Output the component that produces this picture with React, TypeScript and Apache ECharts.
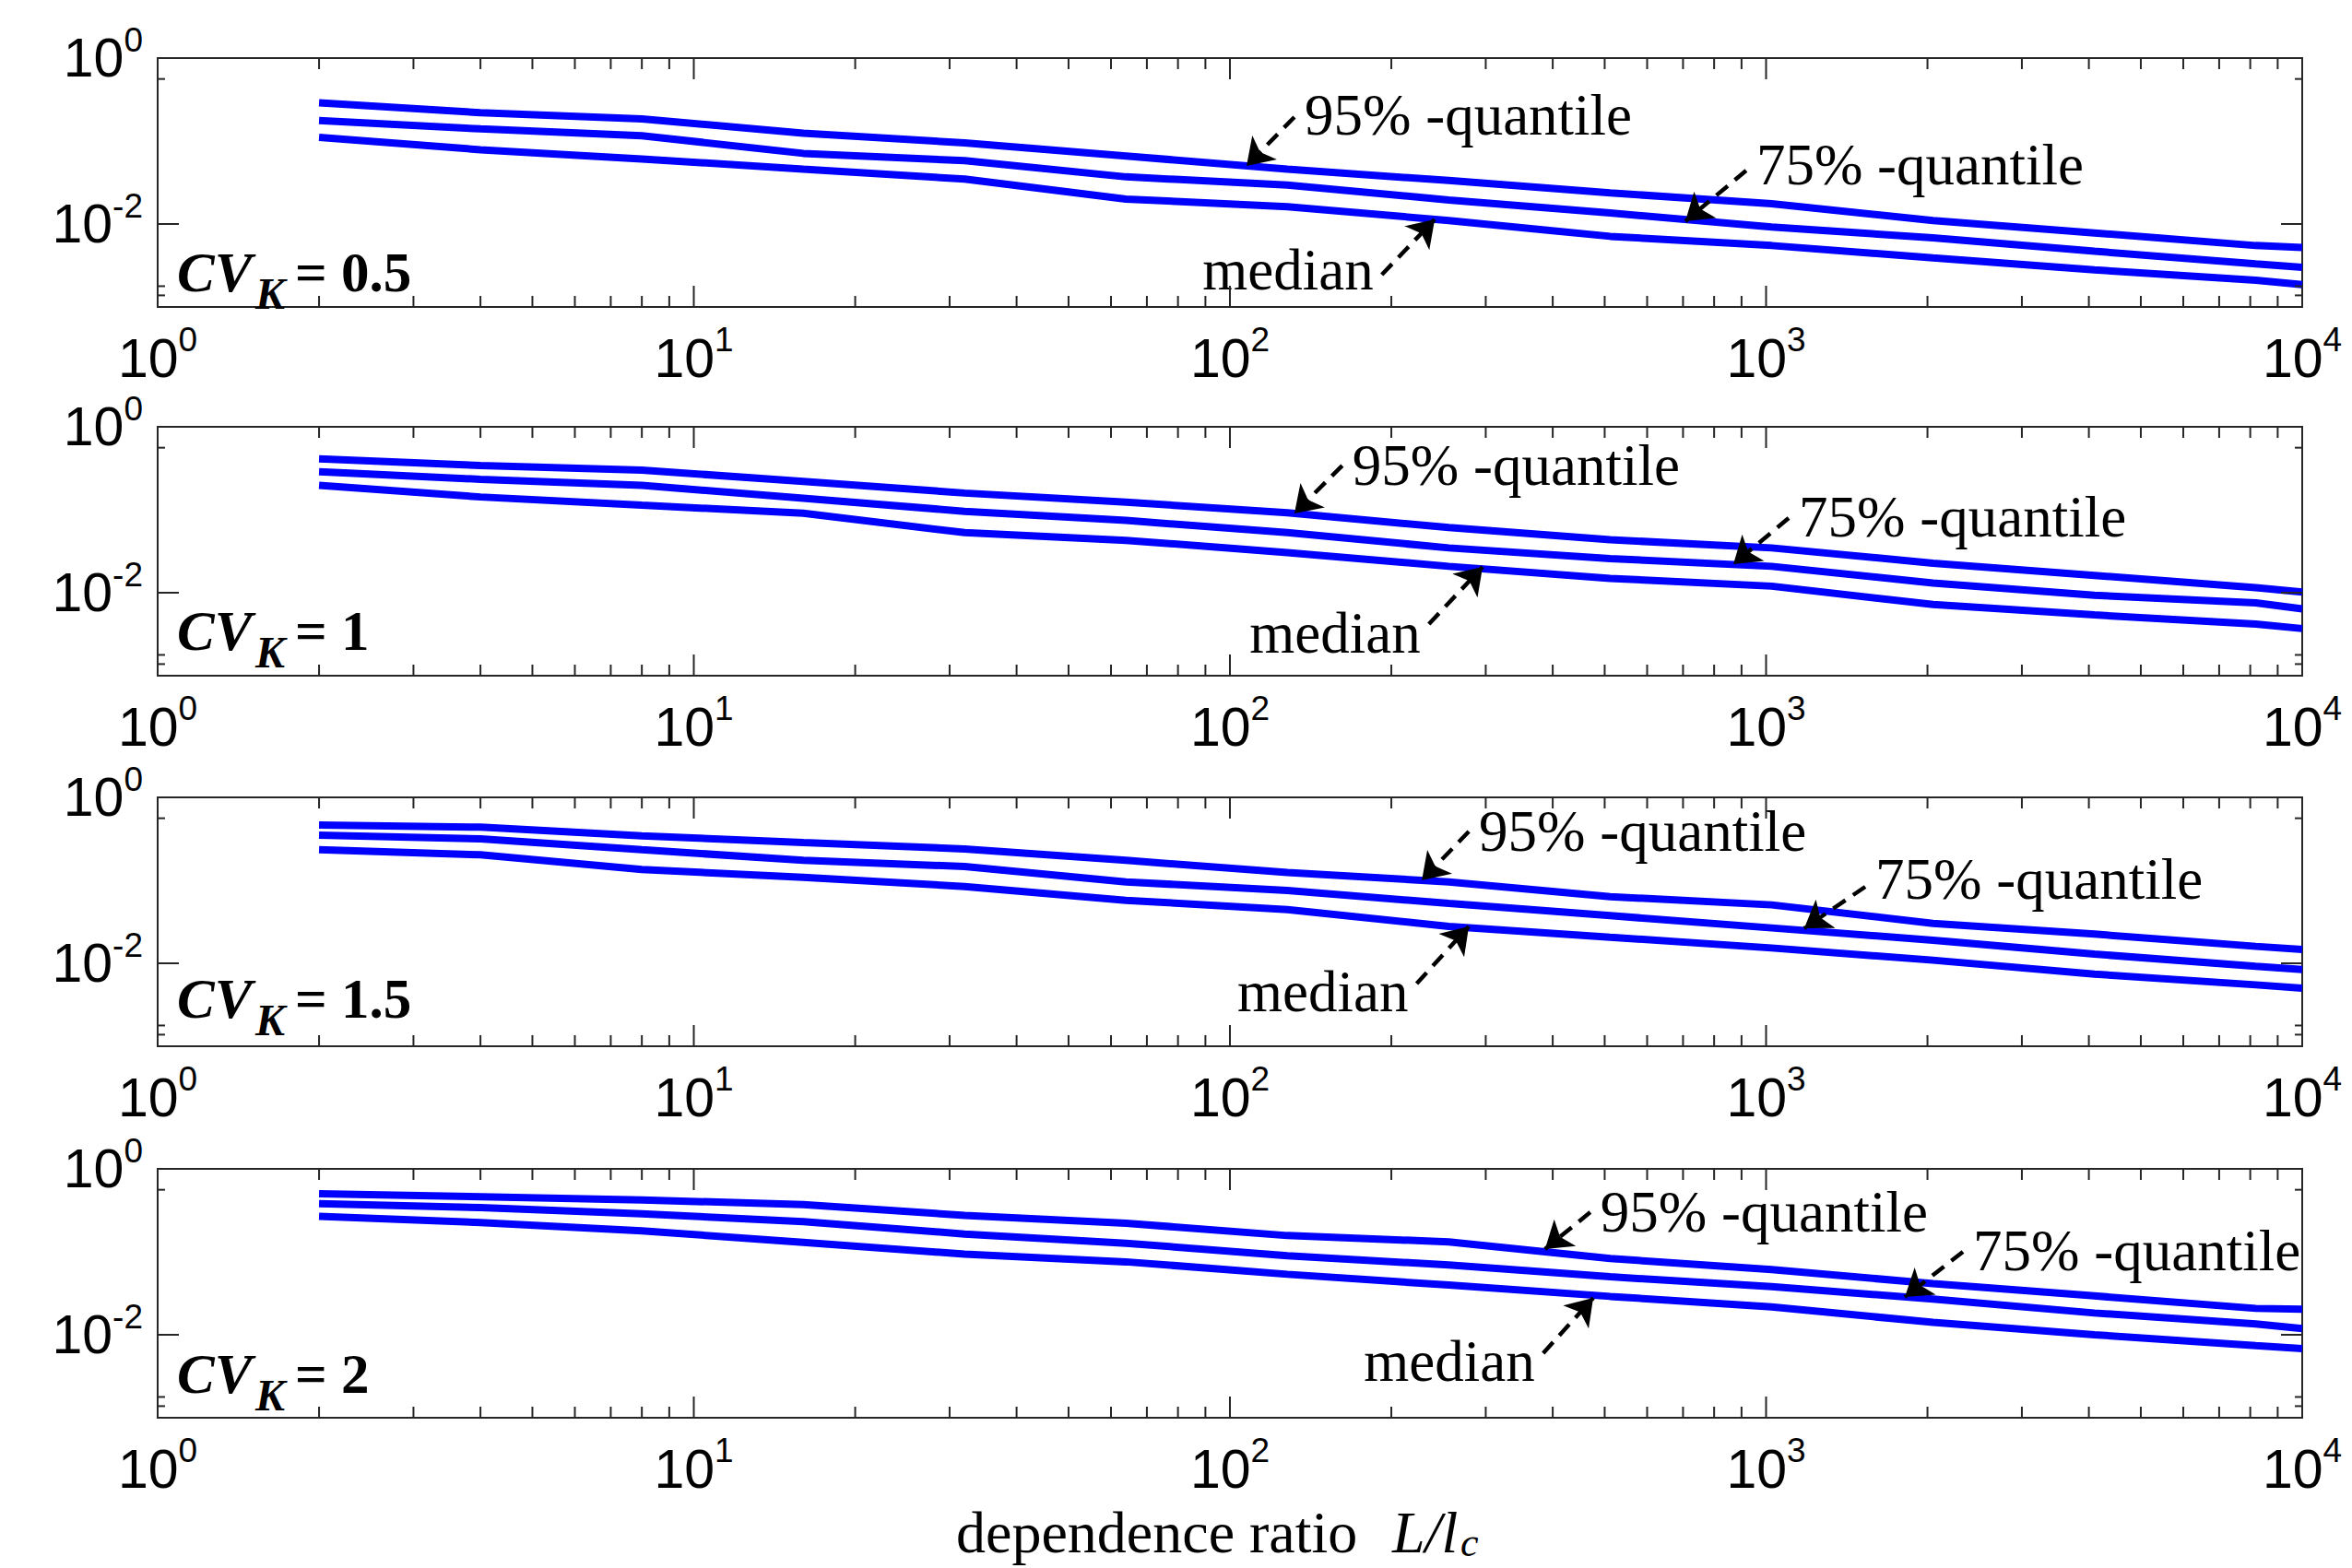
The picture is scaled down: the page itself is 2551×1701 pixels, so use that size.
import React, { useEffect, useRef } from "react";
import * as echarts from "echarts";

// ---------------- data ----------------
const X_VALUES = [2, 4, 8, 16, 32, 64, 128, 256, 512, 1024, 2048, 4096, 8192, 10000];
const CV_LABELS = ["0.5", "1", "1.5", "2"];

const Q95_CV05 = [0.289, 0.22, 0.185, 0.124, 0.095, 0.066, 0.0458, 0.0334, 0.0237, 0.0176, 0.011, 0.0078, 0.0055, 0.0052];
const Q75_CV05 = [0.177, 0.14, 0.116, 0.071, 0.058, 0.037, 0.0294, 0.0195, 0.0136, 0.0092, 0.0068, 0.0047, 0.0033, 0.003];
const Q50_CV05 = [0.111, 0.0785, 0.0608, 0.0458, 0.0348, 0.02, 0.0162, 0.011, 0.0071, 0.0055, 0.0039, 0.0028, 0.0021, 0.00186];

const Q95_CV1 = [0.411, 0.341, 0.3, 0.22, 0.159, 0.1235, 0.0918, 0.061, 0.0435, 0.0347, 0.0227, 0.0162, 0.0115, 0.0102];
const Q75_CV1 = [0.288, 0.233, 0.197, 0.138, 0.0958, 0.0743, 0.053, 0.0347, 0.0258, 0.0208, 0.0131, 0.0093, 0.00755, 0.0064];
const Q50_CV1 = [0.197, 0.1426, 0.1135, 0.091, 0.053, 0.0428, 0.0305, 0.0208, 0.0149, 0.012, 0.0072, 0.0054, 0.0042, 0.0037];

const Q95_CV15 = [0.464, 0.437, 0.344, 0.286, 0.239, 0.174, 0.124, 0.0958, 0.0636, 0.0506, 0.0303, 0.0225, 0.016, 0.0147];
const Q75_CV15 = [0.35, 0.316, 0.234, 0.174, 0.147, 0.0958, 0.0755, 0.0527, 0.0375, 0.0267, 0.019, 0.0129, 0.0092, 0.0084];
const Q50_CV15 = [0.234, 0.203, 0.135, 0.109, 0.0843, 0.0574, 0.0445, 0.0278, 0.0206, 0.0153, 0.0109, 0.0074, 0.0055, 0.005];

const Q95_CV2 = [0.502, 0.461, 0.422, 0.371, 0.275, 0.221, 0.157, 0.132, 0.083, 0.061, 0.0414, 0.0294, 0.0208, 0.0203];
const Q75_CV2 = [0.381, 0.341, 0.287, 0.231, 0.164, 0.127, 0.0897, 0.0693, 0.05, 0.038, 0.0269, 0.0183, 0.0135, 0.0119];
const Q50_CV2 = [0.268, 0.225, 0.179, 0.13, 0.0938, 0.0757, 0.0536, 0.0397, 0.029, 0.0217, 0.0141, 0.01, 0.0074, 0.0068];

const PANELS = [
  [Q95_CV05, Q75_CV05, Q50_CV05],
  [Q95_CV1, Q75_CV1, Q50_CV1],
  [Q95_CV15, Q75_CV15, Q50_CV15],
  [Q95_CV2, Q75_CV2, Q50_CV2],
];

// annotation anchors (data coordinates)
const ARROW_95_TAIL = [[131.9, 0.1945], [162, 0.341], [279, 0.388], [470, 0.3]];
const ARROW_95_TIP = [[107.4, 0.0501], [131.9, 0.0903], [228, 0.1], [387, 0.108]];
const ARROW_75_TAIL = [[918, 0.0441], [1102, 0.0794], [1531, 0.0836], [2329, 0.1]];
const ARROW_75_TIP = [[707, 0.0108], [869, 0.0221], [1178, 0.0264], [1815, 0.0285]];
const ARROW_50_TAIL = [[192, 0.00245], [235, 0.00419], [223, 0.0057], [384, 0.006]];
const ARROW_50_TIP = [[241, 0.01136], [296, 0.0205], [279, 0.0278], [476, 0.0278]];

const ANNOTATION_TEXTS = ["95% -quantile", "75% -quantile", "median"];

// tick values
const X_MAJOR_TICKS = [10, 100, 1000];
const X_MINOR_TICKS = [
  2, 3, 4, 5, 6, 7, 8, 9,
  20, 30, 40, 50, 60, 70, 80, 90,
  200, 300, 400, 500, 600, 700, 800, 900,
  2000, 3000, 4000, 5000, 6000, 7000, 8000, 9000,
];
const Y_MAJOR_TICKS = [0.01];
const Y_MINOR_TICKS = [0.56, 0.00178, 0.00138];
const Y_LABEL_EXPONENTS = [0, -2];

// ---------------- layout ----------------
const SANS = "'Liberation Sans', Arial, sans-serif";
const SERIF = "'Liberation Serif', 'Times New Roman', serif";
const GRID_LEFT = 171;
const GRID_WIDTH = 2326;
const GRID_HEIGHT = 270;
const GRID_TOPS = [63, 463, 865, 1268];
const CV_BASELINE_OFFSETS = [18, 29, 32, 28];
// per-panel vertical label nudges (px) for [95%, 75%, median]
const LABEL_DY = [
  [-2, -6, -5],
  [0, -1, 10],
  [0, -8, 9],
  [0, -1, 9],
];
const BOX_COLOR = "#262626";
const LINE_COLOR = "#0000ff";

const labelRich = {
  b: { fontSize: 59, lineHeight: 59, fontFamily: SANS, color: "#000", verticalAlign: "bottom" },
  s: { fontSize: 37, lineHeight: 37, fontFamily: SANS, color: "#000", verticalAlign: "bottom", padding: [0, 0, 31, 0] },
};

function expOf(v: number) {
  return Math.round(Math.log10(v));
}

function buildOption() {
  const grid: any[] = [];
  const xAxis: any[] = [];
  const yAxis: any[] = [];
  const series: any[] = [];
  const graphic: any[] = [];

  GRID_TOPS.forEach((top, i) => {
    grid.push({
      left: GRID_LEFT,
      top,
      width: GRID_WIDTH,
      height: GRID_HEIGHT,
      show: true,
      borderColor: BOX_COLOR,
      borderWidth: 2,
      backgroundColor: "transparent",
    });
    xAxis.push({
      type: "log",
      gridIndex: i,
      logBase: 10,
      min: 1,
      max: 10000,
      splitNumber: 4,
      axisLine: { show: false },
      axisTick: { show: false },
      splitLine: { show: false },
      axisLabel: {
        margin: 26,
        formatter: (v: number) => `{b|10}{s|${expOf(v)}}`,
        rich: labelRich,
      },
    });
    yAxis.push({
      type: "log",
      gridIndex: i,
      logBase: 10,
      min: 0.001,
      max: 1,
      axisLine: { show: false },
      axisTick: { show: false },
      splitLine: { show: false },
      axisLabel: {
        margin: 16,
        formatter: (v: number) => {
          const e = expOf(v);
          return Y_LABEL_EXPONENTS.includes(e) ? `{b|10}{s|${e}}` : "";
        },
        rich: labelRich,
      },
    });

    const tails = [ARROW_95_TAIL[i], ARROW_75_TAIL[i], ARROW_50_TAIL[i]];
    const tips = [ARROW_95_TIP[i], ARROW_75_TIP[i], ARROW_50_TIP[i]];

    PANELS[i].forEach((vals, k) => {
      const isMedian = k === 2;
      series.push({
        type: "line",
        xAxisIndex: i,
        yAxisIndex: i,
        data: X_VALUES.map((x, j) => [x, vals[j]]),
        symbol: "none",
        showSymbol: false,
        lineStyle: { color: LINE_COLOR, width: 8 },
        itemStyle: { color: LINE_COLOR },
        clip: true,
        z: 2,
        markLine: {
          silent: true,
          symbol: ["none", "arrow"],
          symbolSize: 28,
          lineStyle: { color: "#000", width: 4.5, type: [16, 10] },
          itemStyle: { color: "#000" },
          label: { show: false },
          z: 5,
          data: [[{ coord: tails[k] }, { coord: tips[k] }]],
        },
        markPoint: {
          silent: true,
          symbol: "circle",
          symbolSize: 0,
          itemStyle: { color: "transparent" },
          label: {
            show: true,
            position: isMedian ? "left" : "right",
            distance: isMedian ? 9 : 11,
            offset: [0, LABEL_DY[i][k]],
            formatter: ANNOTATION_TEXTS[k],
            fontFamily: SERIF,
            fontSize: 63,
            color: "#000",
          },
          data: [{ coord: tails[k] }],
        },
      });
    });

    // tick marks (inside, mirrored on both sides)
    series.push({
      type: "custom",
      xAxisIndex: i,
      yAxisIndex: i,
      silent: true,
      z: 6,
      encode: { x: 0, y: 1 },
      data: [
        ...X_MAJOR_TICKS.map((v) => [v, 0.01, 23]),
        ...X_MINOR_TICKS.map((v) => [v, 0.01, 12]),
      ],
      renderItem: (params: any, api: any) => {
        const cs = params.coordSys;
        const px = api.coord([api.value(0), api.value(1)])[0];
        const len = api.value(2);
        const bottom = cs.y + cs.height;
        const st = { stroke: BOX_COLOR, lineWidth: 2 };
        return {
          type: "group",
          children: [
            { type: "line", shape: { x1: px, y1: bottom, x2: px, y2: bottom - len }, style: st },
            { type: "line", shape: { x1: px, y1: cs.y, x2: px, y2: cs.y + len }, style: st },
          ],
        };
      },
    });
    series.push({
      type: "custom",
      xAxisIndex: i,
      yAxisIndex: i,
      silent: true,
      z: 6,
      encode: { x: 0, y: 1 },
      data: [
        ...Y_MAJOR_TICKS.map((v) => [2, v, 23]),
        ...Y_MINOR_TICKS.map((v) => [2, v, 8]),
      ],
      renderItem: (params: any, api: any) => {
        const cs = params.coordSys;
        const py = api.coord([api.value(0), api.value(1)])[1];
        const len = api.value(2);
        const right = cs.x + cs.width;
        const st = { stroke: BOX_COLOR, lineWidth: 2 };
        return {
          type: "group",
          children: [
            { type: "line", shape: { x1: cs.x, y1: py, x2: cs.x + len, y2: py }, style: st },
            { type: "line", shape: { x1: right, y1: py, x2: right - len, y2: py }, style: st },
          ],
        };
      },
    });

    // CV_K label
    const base = top + GRID_HEIGHT - CV_BASELINE_OFFSETS[i];
    const txt = (x: number, y: number, text: string, font: string) => ({
      type: "text",
      x,
      y,
      silent: true,
      z: 10,
      style: {
        text,
        font,
        fill: "#000",
        align: "left",
        verticalAlign: "middle",
        textAlign: "left",
        textVerticalAlign: "middle",
      },
    });
    graphic.push(txt(GRID_LEFT + 21, base - 20, "CV", `italic bold 61px ${SERIF}`));
    graphic.push(txt(GRID_LEFT + 106, base + 3, "K", `italic bold 48px ${SERIF}`));
    graphic.push(txt(GRID_LEFT + 149, base - 20, `= ${CV_LABELS[i]}`, `bold 61px ${SERIF}`));
  });

  // x axis title
  const ttl = (x: number, y: number, text: string, font: string) => ({
    type: "text",
    x,
    y,
    silent: true,
    style: {
      text,
      font,
      fill: "#000",
      align: "left",
      verticalAlign: "middle",
      textAlign: "left",
      textVerticalAlign: "middle",
    },
  });
  graphic.push(ttl(1037, 1662, "dependence ratio", `64px ${SERIF}`));
  graphic.push(ttl(1510, 1662, "L/l", `italic 64px ${SERIF}`));
  graphic.push(ttl(1584, 1673, "c", `italic 44px ${SERIF}`));

  return {
    animation: false,
    backgroundColor: "#ffffff",
    grid,
    xAxis,
    yAxis,
    series,
    graphic,
  };
}

export default function App() {
  const ref = useRef<HTMLDivElement>(null);
  useEffect(() => {
    const chart = echarts.init(ref.current!, null, { renderer: "svg" });
    chart.setOption(buildOption() as any);
    return () => chart.dispose();
  }, []);
  return (
    <div
      ref={ref}
      style={{ position: "absolute", left: 0, top: 0, width: 2551, height: 1701, background: "#fff" }}
    />
  );
}
